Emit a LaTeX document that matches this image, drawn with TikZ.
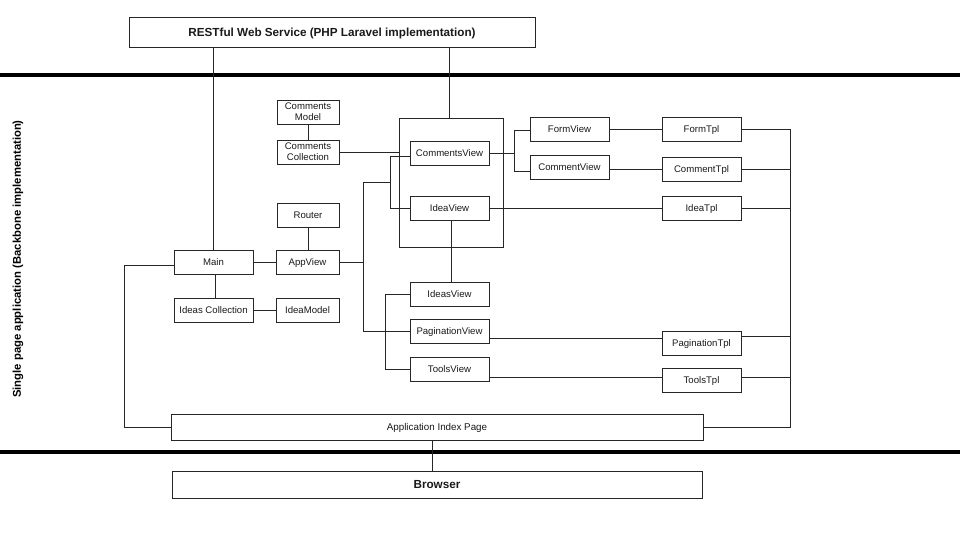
\documentclass[tikz,border=0pt]{standalone}
\usepackage{fontspec}
\setmainfont{Liberation Sans}
\begin{document}
\begin{tikzpicture}[x=1pt,y=-1pt,
  box/.style={draw=black!85, line width=0.9pt, inner sep=0pt, minimum height=24pt,
    font=\fontsize{9.6}{10.8}\selectfont, align=center, text=black!90},
  oneline/.style={text height=6.9pt, text depth=0pt},
  wide/.style={minimum width=79pt, oneline},
  narrow/.style={minimum width=62pt},
  conn/.style={draw=black!85, line width=0.9pt},
  sepline/.style={draw=black, line width=3.2pt}]
\useasboundingbox (0,0) rectangle (960,539);

% separators
\draw[sepline] (0,75) -- (960,75);
\draw[sepline] (0,452) -- (960,452);

% nodes
\node[box, minimum width=406pt, minimum height=30pt, text height=8.4pt, text depth=0pt, font=\bfseries\fontsize{11.7}{13}\selectfont] (rest) at (332,32) {RESTful Web Service (PHP Laravel implementation)};
\node[rotate=90, font=\bfseries\fontsize{11.3}{13}\selectfont, inner sep=0pt] (side) at (18,259) {Single page application (Backbone implementation)};

\node[box, narrow] (cmodel) at (308,112) {Comments\\Model};
\node[box, narrow] (ccoll) at (308,152) {Comments\\Collection};
\node[box, narrow, oneline] (router) at (308,215) {Router};
\node[box, wide] (main) at (213.5,262) {Main};
\node[box, minimum width=63pt, oneline] (appview) at (307.5,262) {AppView};
\node[box, wide] (icoll) at (213.5,310) {Ideas Collection};
\node[box, minimum width=63pt, oneline] (imodel) at (307.5,310) {IdeaModel};

\node[draw=black!85, line width=0.9pt, minimum width=104pt, minimum height=129pt, inner sep=0pt] (container) at (451,182.5) {};
\node[box, wide] (cview) at (449.5,153) {CommentsView};
\node[box, wide] (iview) at (449.5,208.5) {IdeaView};

\node[box, wide] (formview) at (569.5,129) {FormView};
\node[box, wide] (commentview) at (569.5,167) {CommentView};
\node[box, wide] (formtpl) at (701.5,129.5) {FormTpl};
\node[box, wide] (commenttpl) at (701.5,169) {CommentTpl};
\node[box, wide] (ideatpl) at (701.5,208.5) {IdeaTpl};

\node[box, wide] (ideasview) at (449.5,294) {IdeasView};
\node[box, wide] (pagview) at (449.5,331) {PaginationView};
\node[box, wide] (toolsview) at (449.5,369) {ToolsView};
\node[box, wide] (pagtpl) at (701.5,343) {PaginationTpl};
\node[box, wide] (toolstpl) at (701.5,380) {ToolsTpl};

\node[box, minimum width=532pt, minimum height=26pt, text height=7pt, text depth=0pt, font=\fontsize{9.8}{11}\selectfont] (appindex) at (437,427) {Application Index Page};
\node[box, minimum width=530pt, minimum height=27pt, text height=8.4pt, text depth=0pt, font=\bfseries\fontsize{11.7}{13}\selectfont] (browser) at (437,484.5) {Browser};

% helper coordinates
\coordinate (tr) at (363,0);
\coordinate (b1) at (390,0);
\coordinate (b2) at (385,0);
\coordinate (b3) at (514,0);
\coordinate (bus) at (790,0);
\coordinate (lx) at (124,0);
\coordinate (rx) at (449,0);
\coordinate (ty1) at (0,182);
\coordinate (mw) at ([yshift=-3pt]main.west);
\coordinate (cvw) at ([yshift=-3pt]cview.west);
\coordinate (fvw) at ([yshift=-1pt]formview.west);
\coordinate (cmw) at ([yshift=-4pt]commentview.west);
\coordinate (pl) at ([yshift=-7pt]pagview.east);
\coordinate (tl) at ([yshift=-8pt]toolsview.east);
\coordinate (pte) at ([yshift=7pt]pagtpl.east);
\coordinate (tte) at ([yshift=3pt]toolstpl.east);

% connectors
\draw[conn] (rest.south -| 213,0) -- (main.north -| 213,0);
\draw[conn] (rest.south -| rx) -- (container.north -| rx);
\draw[conn] (cmodel.south) -- (ccoll.north);
\draw[conn] (ccoll.east) -- (ccoll.east -| container.west);
\draw[conn] (router.south) -- (router.south |- appview.north);
\draw[conn] (main.east) -- (appview.west);
\draw[conn] ([xshift=2pt]main.south) -- ([xshift=2pt]icoll.north);
\draw[conn] (icoll.east) -- (imodel.west);
\draw[conn] (mw) -| (lx |- appindex.west) -- (appindex.west);

\draw[conn] (appview.east) -- (appview.east -| tr);
\draw[conn] (tr |- ty1) -- (tr |- pagview.west) -- (pagview.west);
\draw[conn] (tr |- ty1) -- (b1 |- ty1);
\draw[conn] (cvw) -| (b1 |- iview.west) -- (iview.west);
\draw[conn] (ideasview.west) -| (b2 |- toolsview.west) -- (toolsview.west);
\draw[conn] ([xshift=1.5pt]iview.south) -- ([xshift=1.5pt]ideasview.north);

\draw[conn] (cview.east) -- (cview.east -| b3);
\draw[conn] (fvw) -| (cmw -| b3) -- (cmw);
\draw[conn] (formview.east) -- (formview.east -| formtpl.west);
\draw[conn] (commenttpl.west -| commentview.east) -- (commenttpl.west);
\draw[conn] (iview.east) -- (iview.east -| ideatpl.west);
\draw[conn] (pl) -- (pl -| pagtpl.west);
\draw[conn] (tl) -- (tl -| toolstpl.west);

\draw[conn] (formtpl.east) -- (formtpl.east -| bus) -- (bus |- appindex.east) -- (appindex.east);
\draw[conn] (commenttpl.east) -- (commenttpl.east -| bus);
\draw[conn] (ideatpl.east) -- (ideatpl.east -| bus);
\draw[conn] (pte) -- (pte -| bus);
\draw[conn] (tte) -- (tte -| bus);

\draw[conn] ([xshift=-5pt]appindex.south) -- ([xshift=-5pt]browser.north);
\end{tikzpicture}
\end{document}
